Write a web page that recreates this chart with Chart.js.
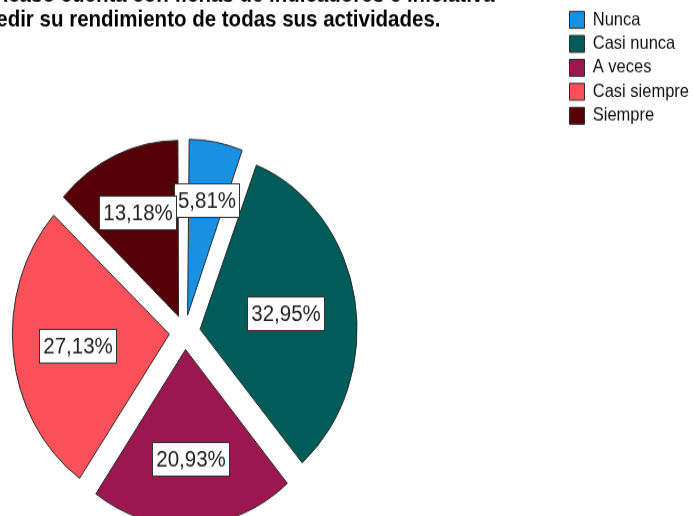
<!DOCTYPE html>
<html><head><meta charset="utf-8">
<script src="https://cdn.jsdelivr.net/npm/chart.js@4/dist/chart.umd.min.js"></script>
<style>
html,body{margin:0;padding:0;background:#fff;}
#wrap{position:relative;width:693px;height:516px;overflow:hidden;background:#fff;}
#c{position:absolute;left:-195px;top:-14.6px;transform:scaleY(1.12);transform-origin:0 0;}
</style></head><body>
<div id="wrap"><canvas id="c"></canvas></div>
<script>
const categories = ['Nunca', 'Casi nunca', 'A veces', 'Casi siempre', 'Siempre'];
const percentages = [5.81, 32.95, 20.93, 27.13, 13.18];
const sliceColors = ['#1890e4', '#005c59', '#9c1750', '#fa5059', '#560008'];
const titleLines = ['Pregunta 8: Acaso cuenta con fichas de indicadores e iniciativa',
                    'para medir su rendimiento de todas sus actividades.'];

const FONT = "'Liberation Sans', Arial, sans-serif";
const LEGEND_SIZE = 16.5;
const BOXW = 15;
const BASE_R = 157;
const OFFSET = 62;
const meas = document.createElement('canvas').getContext('2d');
meas.font = LEGEND_SIZE + 'px ' + FONT;
let maxTw = 0;
categories.forEach(c => { maxTw = Math.max(maxTw, meas.measureText(c).width); });
const legendLeft = 760;
const LEG_PAD = 4.9;
const W = Math.round(legendLeft + LEG_PAD + BOXW + LEGEND_SIZE / 2 + maxTw + 10);
const H = 517;
const cv = document.getElementById('c');
cv.width = W; cv.height = H;
cv.style.width = W + 'px'; cv.style.height = H + 'px';

// keep every slice at the same outer radius when exploded
const radiusPlugin = {
  id: 'equalRadius',
  afterDatasetUpdate(chart, args) {
    args.meta.data.forEach(arc => {
      const off = OFFSET / 4;
      const fix = 1 - Math.sin(Math.min(Math.PI, arc.circumference || 0));
      arc.outerRadius = BASE_R - off * fix;
    });
  }
};

const labelPlugin = {
  id: 'sliceLabels',
  afterDatasetsDraw(chart) {
    const ctx = chart.ctx;
    const meta = chart.getDatasetMeta(0);
    ctx.save();
    ctx.font = '20.5px ' + FONT;
    ctx.textAlign = 'center';
    ctx.textBaseline = 'middle';
    meta.data.forEach((arc, i) => {
      const p = arc.getProps(['x', 'y', 'startAngle', 'endAngle'], true);
      const mid = (p.startAngle + p.endAngle) / 2;
      const half = (p.endAngle - p.startAngle) / 2;
      // sector centroid + explode offset
      const d = (2 * BASE_R * Math.sin(half)) / (3 * half) + OFFSET / 4;
      const x = p.x + Math.cos(mid) * d;
      const y = p.y + Math.sin(mid) * d;
      const txt = percentages[i].toFixed(2).replace('.', ',') + '%';
      const tw = ctx.measureText(txt).width;
      const bw = Math.round(tw + 7), bh = 30;
      const bx = Math.round(x - bw / 2), by = Math.round(y - bh / 2);
      ctx.fillStyle = '#fff';
      ctx.fillRect(bx, by, bw, bh);
      ctx.strokeStyle = '#333';
      ctx.lineWidth = 1;
      ctx.strokeRect(bx + 0.5, by + 0.5, bw, bh);
      ctx.fillStyle = '#222';
      ctx.fillText(txt, bx + bw / 2 + 0.5, by + bh / 2 + 1.5);
    });
    ctx.restore();
  }
};

new Chart(cv, {
  type: 'pie',
  data: {
    labels: categories,
    datasets: [{
      data: percentages,
      backgroundColor: sliceColors,
      borderColor: '#2a2a2a',
      borderWidth: 1,
      offset: OFFSET,
      hoverOffset: 0,
      radius: BASE_R
    }]
  },
  options: {
    responsive: false,
    animation: false,
    devicePixelRatio: 1,
    layout: { padding: 0 },
    events: [],
    plugins: {
      tooltip: { enabled: false },
      title: {
        display: true,
        text: titleLines,
        fullSize: false,
        color: '#000',
        font: { family: FONT, size: 20.5, weight: 'bold', lineHeight: '22px' },
        padding: { top: -1.5, bottom: 60.5 }
      },
      legend: {
        position: 'right',
        align: 'start',
        fullSize: true,
        title: { display: true, text: '', padding: 0, font: { size: 10, lineHeight: '18px' } },
        labels: {
          boxWidth: BOXW,
          boxHeight: 15,
          padding: LEG_PAD,
          color: '#111',
          font: { family: FONT, size: LEGEND_SIZE }
        }
      }
    }
  },
  plugins: [radiusPlugin, labelPlugin]
});
</script>
</body></html>
